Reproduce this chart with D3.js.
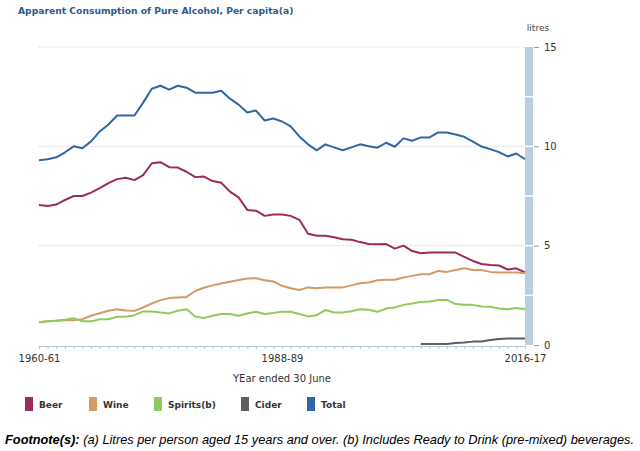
<!DOCTYPE html>
<html><head><meta charset="utf-8">
<script src="https://cdn.jsdelivr.net/npm/d3@7"></script>
<style>
html,body{margin:0;padding:0;background:#fff;}
svg{display:block;}
</style></head>
<body>
<svg id="chart" width="640" height="451"></svg>
<script>
// ---- data ----
const years = d3.range(1960, 2017).map(y => y + "-" + String((y + 1) % 100).padStart(2, "0"));
const tickYears = ["1960-61", "1988-89", "2016-17"];
const yTicks = [0, 5, 10, 15];
const seriesNames = ["Beer", "Wine", "Spirits(b)", "Cider", "Total"];
const beer = [7.05,7.0,7.07,7.3,7.5,7.5,7.67,7.9,8.15,8.35,8.42,8.3,8.55,9.15,9.2,8.95,8.93,8.72,8.45,8.48,8.25,8.17,7.72,7.43,6.8,6.76,6.5,6.57,6.57,6.5,6.3,5.6,5.5,5.5,5.42,5.32,5.3,5.18,5.08,5.07,5.08,4.85,5.0,4.73,4.62,4.65,4.65,4.65,4.65,4.44,4.23,4.08,4.03,4.0,3.8,3.86,3.65];
const wine = [1.14,1.19,1.22,1.25,1.25,1.3,1.47,1.6,1.72,1.8,1.74,1.72,1.89,2.09,2.26,2.36,2.39,2.42,2.72,2.88,3.0,3.1,3.18,3.27,3.35,3.36,3.26,3.2,2.98,2.86,2.77,2.9,2.86,2.9,2.9,2.9,3.0,3.11,3.15,3.26,3.28,3.28,3.4,3.48,3.56,3.56,3.73,3.68,3.78,3.86,3.78,3.78,3.68,3.65,3.65,3.65,3.61];
const spirits = [1.14,1.19,1.22,1.27,1.35,1.19,1.19,1.3,1.3,1.42,1.42,1.5,1.69,1.69,1.64,1.59,1.72,1.8,1.43,1.36,1.47,1.56,1.56,1.47,1.59,1.67,1.56,1.61,1.67,1.67,1.56,1.44,1.5,1.76,1.64,1.64,1.7,1.8,1.77,1.67,1.84,1.89,2.02,2.09,2.17,2.19,2.26,2.27,2.06,2.02,2.02,1.94,1.92,1.84,1.8,1.86,1.8];
const cider = [null,null,null,null,null,null,null,null,null,null,null,null,null,null,null,null,null,null,null,null,null,null,null,null,null,null,null,null,null,null,null,null,null,null,null,null,null,null,null,null,null,null,null,null,0.05,0.05,0.05,0.05,0.1,0.13,0.17,0.18,0.25,0.3,0.33,0.33,0.33];
const total = [9.3,9.35,9.45,9.7,10.0,9.9,10.25,10.75,11.1,11.55,11.55,11.55,12.2,12.9,13.05,12.85,13.05,12.95,12.7,12.7,12.7,12.8,12.4,12.1,11.7,11.8,11.3,11.4,11.25,11.0,10.5,10.1,9.8,10.1,9.95,9.8,9.95,10.1,10.0,9.93,10.18,9.98,10.4,10.28,10.45,10.45,10.7,10.7,10.6,10.48,10.24,9.99,9.86,9.71,9.49,9.64,9.35];
const colors = ["#9c2a5e", "#d39a65", "#8dcb5c", "#5f5f5f", "#2e67a2"];

// ---- chart ----
const svg = d3.select("#chart");
const font = "'DejaVu Sans', Verdana, sans-serif";
const x = d3.scalePoint().domain(years).range([39, 525]);
const y = d3.scaleLinear().domain([0, 15]).range([345, 47]);

svg.append("text").attr("x", 18).attr("y", 14)
  .attr("font-family", font).attr("font-size", 9.2).attr("font-weight", "bold")
  .attr("fill", "#2c5c8c").text("Apparent Consumption of Pure Alcohol, Per capita(a)");

// gridlines
svg.append("g").selectAll("line").data(yTicks.filter(d => d > 0)).join("line")
  .attr("x1", 39).attr("x2", 525).attr("y1", d => y(d)).attr("y2", d => y(d))
  .attr("stroke", "#d4d4d4").attr("stroke-width", 1).attr("stroke-dasharray", "1,1");

// right band
svg.append("rect").attr("x", 525).attr("width", 8).attr("y", y(15)).attr("height", y(0) - y(15))
  .attr("fill", "#bccde0");
svg.append("g").selectAll("line").data([2.5, 5, 7.5, 10, 12.5]).join("line")
  .attr("x1", 525).attr("x2", 533).attr("y1", d => y(d)).attr("y2", d => y(d))
  .attr("stroke", "#fff").attr("stroke-width", 1.5);

// right axis
const yAxis = d3.axisRight(y).tickValues(yTicks).tickSize(5).tickPadding(5);
const gy = svg.append("g").attr("transform", "translate(534,0)").call(yAxis);
gy.select(".domain").remove();
gy.selectAll(".tick line").attr("stroke", "#999");
gy.selectAll(".tick text").attr("font-family", font).attr("font-size", 10).attr("fill", "#333");
svg.append("text").attr("x", 538).attr("y", 31).attr("text-anchor", "middle")
  .attr("font-family", font).attr("font-size", 9).attr("fill", "#444").text("litres");

// bottom axis
const xAxis = d3.axisBottom(x).tickSize(3).tickFormat(d => tickYears.includes(d) ? d : "");
const gx = svg.append("g").attr("transform", "translate(0,346)").call(xAxis);
gx.select(".domain").attr("stroke", "#b4c6da").attr("d", "M39,0.5H525");
gx.selectAll(".tick line").attr("stroke", "#b4c6da");
gx.selectAll(".tick text").attr("font-family", font).attr("font-size", 10).attr("fill", "#333").attr("dy", "0.95em");
svg.append("text").attr("x", 282).attr("y", 382).attr("text-anchor", "middle")
  .attr("font-family", font).attr("font-size", 10).attr("fill", "#333").text("YEar ended 30 June");

// lines
const allSeries = [beer, wine, spirits, cider, total];
const line = d3.line().defined(d => d.v != null).x(d => x(d.yr)).y(d => y(d.v));
allSeries.forEach((s, k) => {
  svg.append("path").datum(s.map((v, i) => ({yr: years[i], v})))
    .attr("fill", "none").attr("stroke", colors[k]).attr("stroke-width", 2)
    .attr("stroke-linejoin", "round").attr("d", line);
});

// legend
const legX = [25, 89, 154, 241, 307];
const lg = svg.append("g").selectAll("g").data(seriesNames).join("g")
  .attr("transform", (d, i) => `translate(${legX[i]},397)`);
lg.append("rect").attr("width", 8).attr("height", 14).attr("fill", (d, i) => colors[i]);
lg.append("text").attr("x", 14).attr("y", 10.5).attr("font-family", font).attr("font-size", 9)
  .attr("font-weight", "bold").attr("fill", "#333").text(d => d);

// footnote
const fn = svg.append("text").attr("x", 5).attr("y", 444)
  .attr("font-family", "'Liberation Sans', Arial, sans-serif").attr("font-size", 12.8)
  .attr("font-style", "italic").attr("fill", "#000");
fn.append("tspan").attr("font-weight", "bold").text("Footnote(s):");
fn.append("tspan").text(" (a) Litres per person aged 15 years and over. (b) Includes Ready to Drink (pre-mixed) beverages.");
</script>
</body></html>
